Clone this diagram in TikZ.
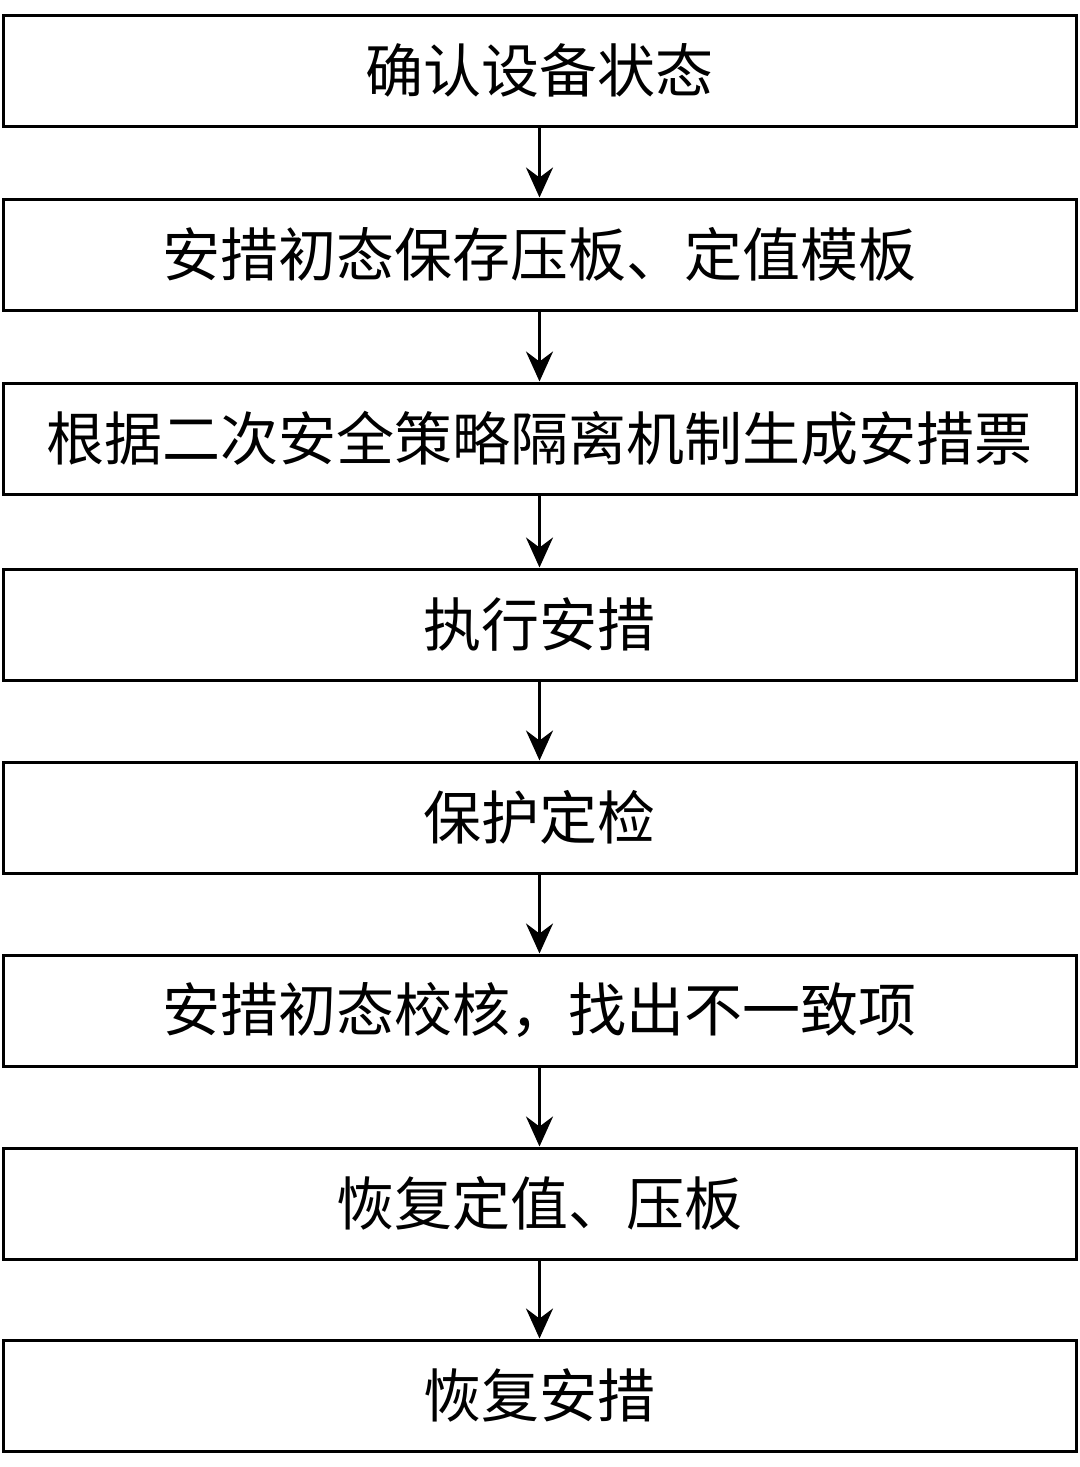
\documentclass[tikz,border=0pt]{standalone}
\usepackage{fontspec}
\newfontfamily\cjk{Noto Sans CJK SC}
\usetikzlibrary{arrows.meta}
\tikzset{
  stepbox/.style={draw=black, line width=1.5pt, fill=white, minimum width=536.5pt, minimum height=55.5pt, inner sep=0pt, font=\cjk\fontsize{29pt}{31pt}\selectfont},
  flowarrow/.style={line width=1.5pt, -{Stealth[length=15pt,width=13.5pt,inset=5pt]}}
}
\begin{document}
\begin{tikzpicture}[x=0.5pt,y=-0.5pt]
\useasboundingbox (0,0) rectangle (1080,1467);
\fill[white] (0,0) rectangle (1080,1467);
\node[stepbox] (b1) at (539.5,70.5) {确认设备状态};
\node[stepbox] (b2) at (539.5,254.5) {安措初态保存压板、定值模板};
\node[stepbox] (b3) at (539.5,438.5) {根据二次安全策略隔离机制生成安措票};
\node[stepbox] (b4) at (539.5,624.5) {执行安措};
\node[stepbox] (b5) at (539.5,817.5) {保护定检};
\node[stepbox] (b6) at (539.5,1010.5) {安措初态校核，找出不一致项};
\node[stepbox] (b7) at (539.5,1203.5) {恢复定值、压板};
\node[stepbox] (b8) at (539.5,1395.5) {恢复安措};
\foreach \a/\b in {b1/b2,b2/b3,b3/b4,b4/b5,b5/b6,b6/b7,b7/b8}
  \draw[flowarrow] (\a.south) -- (\b.north);
\end{tikzpicture}
\end{document}
